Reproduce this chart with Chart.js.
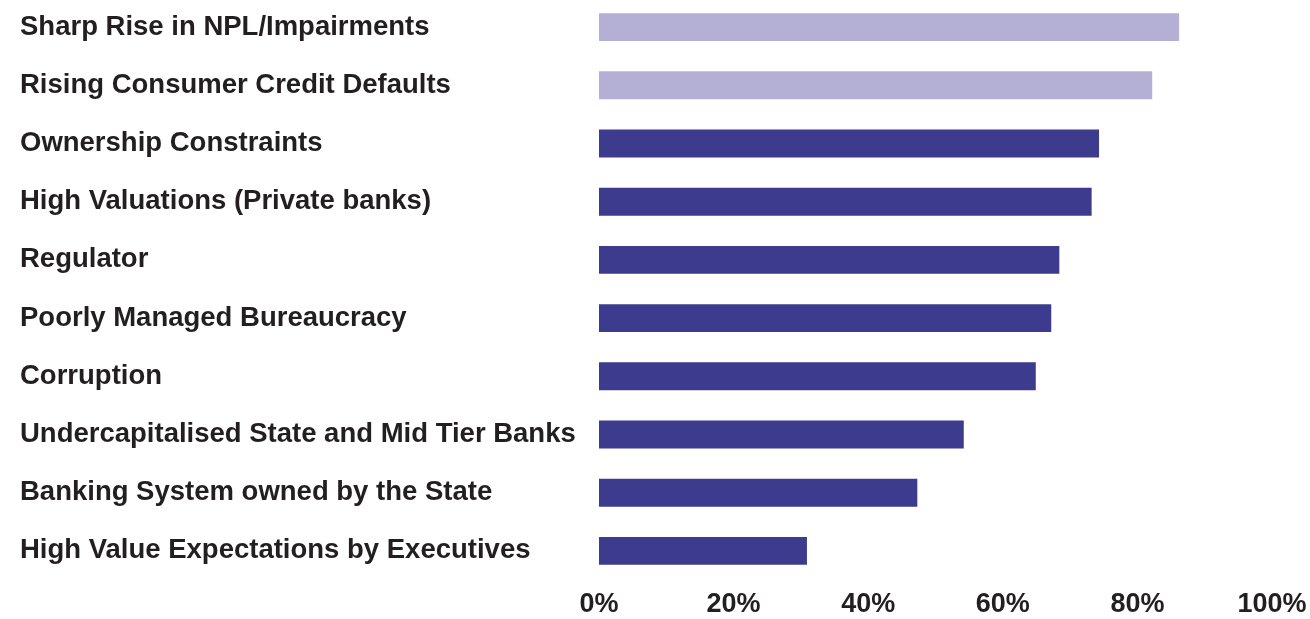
<!DOCTYPE html>
<html>
<head>
<meta charset="utf-8">
<script src="https://cdn.jsdelivr.net/npm/chart.js@4.4.0/dist/chart.umd.min.js"></script>
<style>
  html, body { margin: 0; padding: 0; background: #fff; overflow: hidden; }
  #wrap { position: absolute; left: 0; top: -2px; width: 1310px; height: 621px; }
</style>
</head>
<body>
<div id="wrap"><canvas id="chart"></canvas></div>
<script>
const categories = [
  'Sharp Rise in NPL/Impairments',
  'Rising Consumer Credit Defaults',
  'Ownership Constraints',
  'High Valuations (Private banks)',
  'Regulator',
  'Poorly Managed Bureaucracy',
  'Corruption',
  'Undercapitalised State and Mid Tier Banks',
  'Banking System owned by the State',
  'High Value Expectations by Executives'
]
const shares = [86.2, 82.2, 74.3, 73.2, 68.4, 67.2, 64.9, 54.2, 47.3, 30.9]
const xTicks = [0, 20, 40, 60, 80, 100]

const LIGHT = '#b4afd4'
const DARK = '#3d3b8e'
const TEXT = '#231f20'
const FONT = "'Liberation Sans', Arial, sans-serif"

new Chart(document.getElementById('chart'), {
  type: 'bar',
  data: {
    labels: categories,
    datasets: [{
      data: shares,
      backgroundColor: ctx => ctx.dataIndex < 2 ? LIGHT : DARK,
      borderWidth: 0,
      categoryPercentage: 1,
      barPercentage: 0.48
    }]
  },
  options: {
    indexAxis: 'y',
    responsive: true,
    maintainAspectRatio: false,
    animation: false,
    layout: { padding: { left: 20, top: 0, right: 0, bottom: 0 } },
    plugins: { legend: { display: false }, tooltip: { enabled: false } },
    scales: {
      x: {
        min: 0,
        max: 100,
        afterBuildTicks: scale => { scale.ticks = xTicks.map(v => ({ value: v })) },
        afterFit: scale => {
          scale.height = 39
          scale.paddingRight = 38
          scale.paddingLeft = 0
        },
        grid: { display: false, drawTicks: false },
        border: { display: false },
        ticks: {
          padding: 8,
          color: TEXT,
          font: { family: FONT, size: 27, weight: 'bold' },
          callback: v => v + '%'
        }
      },
      y: {
        afterFit: scale => {
          scale.width = 579
          scale.paddingTop = 0
          scale.paddingBottom = 0
        },
        grid: { display: false, drawTicks: false },
        border: { display: false },
        ticks: {
          crossAlign: 'far',
          color: TEXT,
          font: { family: FONT, size: 27.5, weight: 'bold' }
        }
      }
    }
  }
})
</script>
</body>
</html>
